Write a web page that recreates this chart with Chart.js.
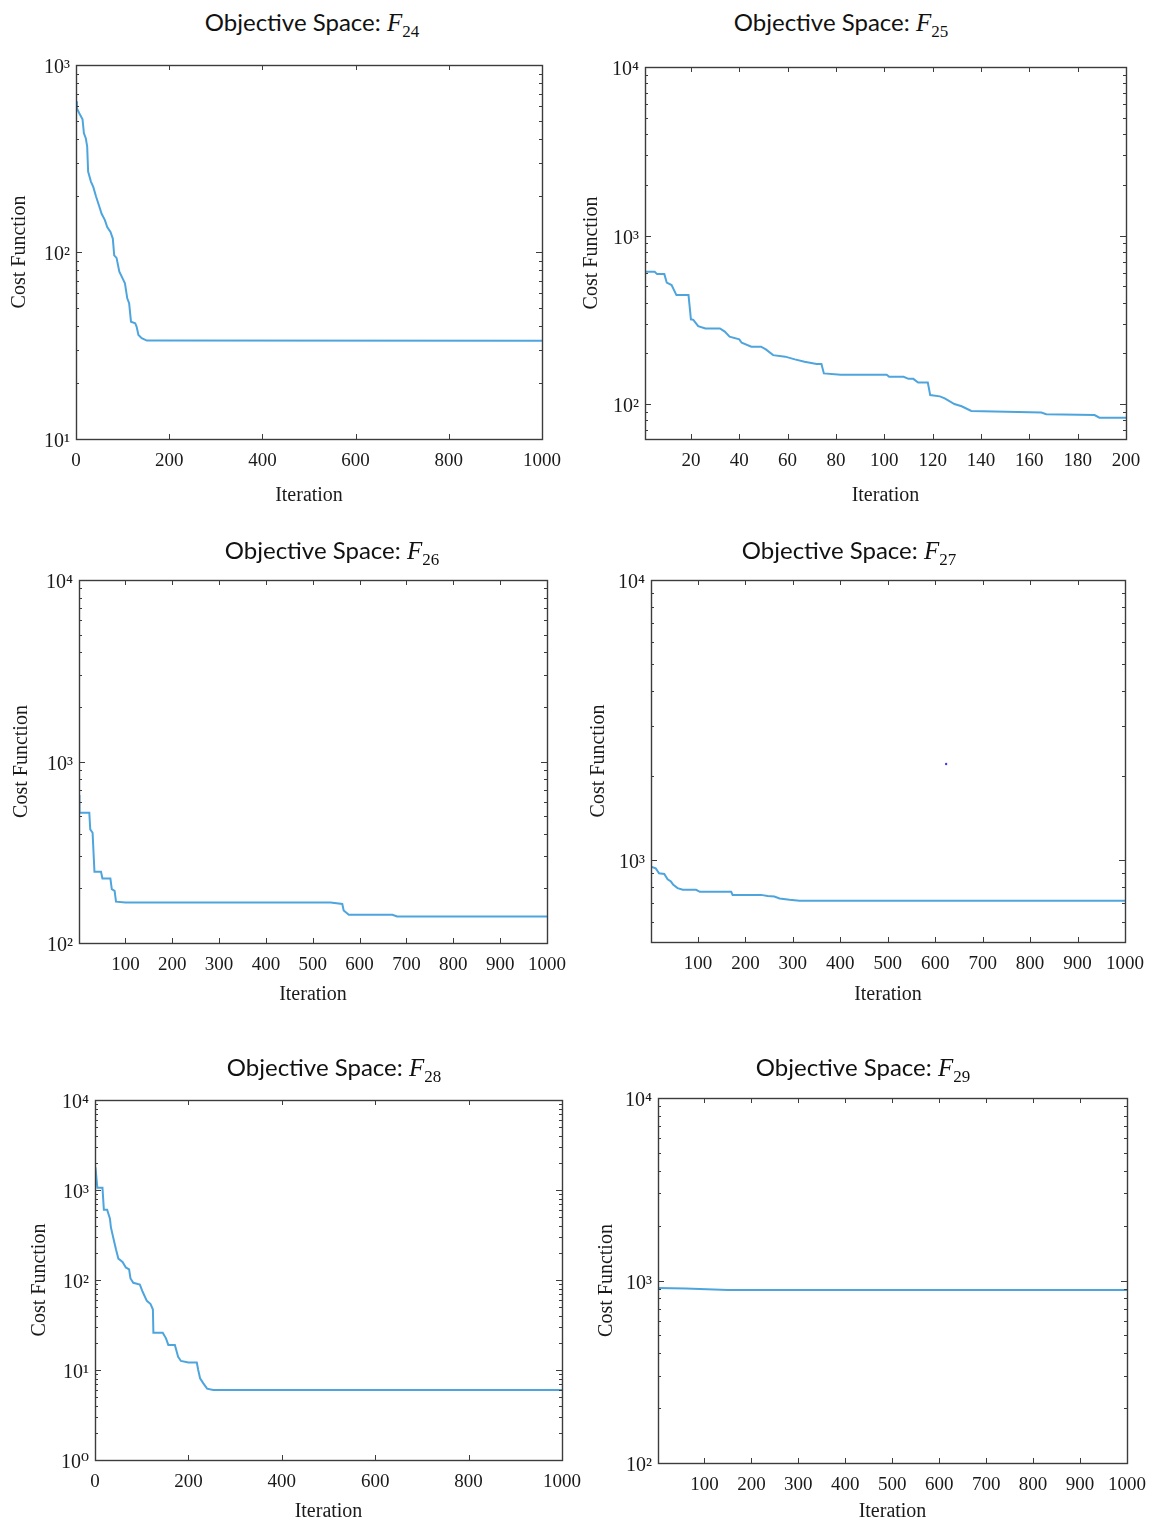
<!DOCTYPE html>
<html>
<head>
<meta charset="utf-8">
<script src="https://cdn.jsdelivr.net/npm/chart.js@4.4.1/dist/chart.umd.min.js"></script>
<style>
body{margin:0;background:#fff;width:1153px;height:1524px;position:relative;overflow:hidden}
.box{position:absolute}
.ttl{position:absolute;font-family:Lato,"Noto Sans",sans-serif;font-size:24px;line-height:28px;color:#111;white-space:nowrap;transform:translateX(-50%)}
.ttl i{font-family:"Liberation Serif",serif;font-size:25px}
.ttl sub{font-family:"Liberation Serif",serif;font-size:17px;vertical-align:-6px;line-height:0}
</style>
</head>
<body>

<script>
// F24
const iter24 = [1,2,7,14,17,21,24,26,32,37,43,50,55,62,67,74,79,82,87,93,100,105,110,114,118,127,130,134,141,152,1000];
const cost24 = [640,586,552,513,431,406,366,269,238,223,198,175,160,148,136,128,118,96,93,78.5,72.3,68,56.5,53.2,42.4,41.6,39.9,36,34.6,33.6,33.5];
// F25
const iter25 = [1,5,6,9,10,12,14,19,20,21,23,26,32,34,36,40,41,45,49,51,54,59,63,67,72,74,75,82,101,102,108,110,112,114,118,119,123,125,129,132,136,165,167,187,189,200];
const cost25 = [610,610,590,590,525,508,443,443,318,316,290,281,281,269,251,242,231,219,219,211,195,191,184,178,173,173,152,149,149,145,145,141,141,134,134,113,111,108,100,97,91,89,87,86,83,83];
// F26
const iter26 = [1,2,23,25,30,34,48,51,68,71,77,80,100,538,563,566,577,670,680,1000];
const cost26 = [653,522,522,423,405,247,247,227,227,198,194,169,167,167,164,151,143,143,140,140];
// F27
const iter27 = [1,11,18,29,36,43,48,57,68,96,104,170,173,233,247,261,272,293,314,1000];
const cost27 = [946,933,896,891,853,837,815,793,782,782,769,769,750,750,743,740,728,720,714,714];
const dotIter27 = [623];
const dotCost27 = [2200];
// F28
const iter28 = [1,5,16,19,26,32,34,39,45,50,59,66,73,76,82,96,102,111,119,124,125,145,152,157,171,178,184,200,218,221,225,232,240,253,1000];
const cost28 = [1790,1060,1060,604,604,480,387,296,218,173,159,138,131,104,93,89,74,58.7,54,47,26,26,22.5,19,19,14,12.6,12.1,12.1,10,8.1,7.1,6.2,6.0,6.0];
// F29
const iter29 = [1,60,150,1000];
const cost29 = [910,905,886,886];

// tick labels
const xTicks200 = [0,200,400,600,800,1000];
const xTicks100 = [100,200,300,400,500,600,700,800,900,1000];
const xTicks25 = [20,40,60,80,100,120,140,160,180,200];
const yTicks24 = [10,100,1000];
const yTicks25 = [100,1000,10000];
const yTicks26 = [100,1000,10000];
const yTicks27 = [1000,10000];
const yTicks28 = [1,10,100,1000,10000];
const yTicks29 = [100,1000,10000];

const lineColor = '#4ea5de';
const serif = '"Liberation Serif", "DejaVu Serif", serif';
const sup = {'0':'\u2070','1':'\u00b9','2':'\u00b2','3':'\u00b3','4':'\u2074'};

function logTicks(min, max, majors){
    var out = [];
    var e = Math.floor(Math.log10(min));
    while(Math.pow(10, e) <= max){
        for(let k = 1; k <= 9; k++){
            var v = k * Math.pow(10, e);
            if(v >= min * 0.999 && v <= max * 1.001){
                out.push({value: v, major: majors.indexOf(v) >= 0});
            }
        }
        e++;
    }
    return out;
}

const framePlugin = {
    id: 'frame',
    afterDraw(chart){
        const {ctx, chartArea: a} = chart;
        const x = chart.scales.x, y = chart.scales.y;
        ctx.save();
        ctx.strokeStyle = '#3c3c3c';
        ctx.lineWidth = 1;
        ctx.beginPath();
        x.ticks.forEach(t => {
            const px = Math.round(x.getPixelForValue(t.value)) + 0.5;
            ctx.moveTo(px, a.bottom); ctx.lineTo(px, a.bottom - 5);
            ctx.moveTo(px, a.top); ctx.lineTo(px, a.top + 5);
        });
        y.ticks.forEach(t => {
            const py = Math.round(y.getPixelForValue(t.value)) + 0.5;
            const len = t.major ? 6 : 3;
            ctx.moveTo(a.left, py); ctx.lineTo(a.left + len, py);
            ctx.moveTo(a.right, py); ctx.lineTo(a.right - len, py);
        });
        ctx.stroke();
        ctx.lineWidth = 1.4;
        ctx.strokeRect(Math.round(a.left) + 0.5, Math.round(a.top) + 0.5, Math.round(a.width), Math.round(a.height));
        ctx.restore();
    }
};

function makePanel(p){
    // p.box = [left, top, right, bottom] of the plot area
    const L = p.box[0], T = p.box[1], R = p.box[2], B = p.box[3];
    const padL = 80, padT = 20, padR = 38, padB = 75;
    const div = document.createElement('div');
    div.className = 'box';
    div.style.left = (L - padL) + 'px';
    div.style.top = (T - padT) + 'px';
    div.style.width = (R - L + padL + padR) + 'px';
    div.style.height = (B - T + padT + padB) + 'px';
    const cv = document.createElement('canvas');
    div.appendChild(cv);
    document.body.appendChild(div);

    const ttl = document.createElement('div');
    ttl.className = 'ttl';
    ttl.style.left = p.title[0] + 'px';
    ttl.style.top = (p.title[1] - 14) + 'px';
    ttl.innerHTML = 'Objective Space: <i>F</i><sub>' + p.name + '</sub>';
    document.body.appendChild(ttl);

    const datasets = [{
        data: p.iters.map((v, i) => ({x: v, y: p.costs[i]})),
        borderColor: lineColor,
        borderWidth: 2,
        pointRadius: 0,
        fill: false,
        tension: 0
    }];
    if(p.dots){
        datasets.push({
            data: p.dots[0].map((v, i) => ({x: v, y: p.dots[1][i]})),
            showLine: false,
            pointRadius: 1.2,
            pointBackgroundColor: '#3a3aff',
            pointBorderWidth: 0
        });
    }

    new Chart(cv, {
        type: 'line',
        data: {datasets: datasets},
        options: {
            responsive: true,
            maintainAspectRatio: false,
            animation: false,
            devicePixelRatio: 1,
            layout: {padding: {left: 0, top: padT, right: padR, bottom: 0}},
            plugins: {legend: {display: false}, tooltip: {enabled: false}},
            scales: {
                x: {
                    type: 'linear',
                    min: p.xRange[0],
                    max: p.xRange[1],
                    grid: {display: false, drawTicks: false},
                    border: {display: false},
                    afterBuildTicks: s => { s.ticks = p.xTicks.map(v => ({value: v})); },
                    afterFit: s => { s.height = padB; s.paddingLeft = 0; s.paddingRight = 0; },
                    ticks: {
                        autoSkip: false, maxRotation: 0, padding: 11,
                        color: '#1a1a1a', font: {family: serif, size: 19},
                        callback: v => String(v)
                    },
                    title: {
                        display: true, text: 'Iteration', color: '#1a1a1a',
                        font: {family: serif, size: 20}, padding: {top: 0, bottom: padB - p.xGap - 12}
                    }
                },
                y: {
                    type: 'logarithmic',
                    min: p.yRange[0],
                    max: p.yRange[1],
                    grid: {display: false, drawTicks: false},
                    border: {display: false},
                    afterBuildTicks: s => { s.ticks = logTicks(p.yRange[0], p.yRange[1], p.yTicks); },
                    afterFit: s => { s.width = padL; s.paddingTop = 0; s.paddingBottom = 0; },
                    ticks: {
                        autoSkip: false, padding: 6, labelOffset: 3,
                        color: '#1a1a1a', font: {family: serif, size: 20},
                        callback: v => {
                            if(p.yTicks.indexOf(v) < 0) return '';
                            return '10' + sup[String(Math.round(Math.log10(v)))];
                        }
                    },
                    title: {
                        display: true, text: 'Cost Function', color: '#1a1a1a',
                        font: {family: serif, size: 20}, padding: {top: padL - p.yGap - 12, bottom: 0}
                    }
                }
            }
        },
        plugins: [framePlugin]
    });
}

makePanel({name: '24', box: [76, 65, 542, 439], title: [312, 22], yGap: 56, xGap: 57,
    iters: iter24, costs: cost24, xRange: [0, 1000], yRange: [10, 1000], xTicks: xTicks200, yTicks: yTicks24});
makePanel({name: '25', box: [645, 67, 1126, 439], title: [841, 22], yGap: 53, xGap: 57,
    iters: iter25, costs: cost25, xRange: [1, 200], yRange: [62, 10000], xTicks: xTicks25, yTicks: yTicks25});
makePanel({name: '26', box: [79, 580, 547, 943], title: [332, 550], yGap: 57, xGap: 52,
    iters: iter26, costs: cost26, xRange: [1, 1000], yRange: [100, 10000], xTicks: xTicks100, yTicks: yTicks26});
makePanel({name: '27', box: [651, 580, 1125, 942], title: [849, 550], yGap: 52, xGap: 53,
    iters: iter27, costs: cost27, xRange: [1, 1000], yRange: [509, 10000], xTicks: xTicks100, yTicks: yTicks27,
    dots: [dotIter27, dotCost27]});
makePanel({name: '28', box: [95, 1100, 562, 1460], title: [334, 1067], yGap: 55, xGap: 52,
    iters: iter28, costs: cost28, xRange: [0, 1000], yRange: [1, 10000], xTicks: xTicks200, yTicks: yTicks28});
makePanel({name: '29', box: [658, 1098, 1127, 1463], title: [863, 1067], yGap: 51, xGap: 49,
    iters: iter29, costs: cost29, xRange: [1, 1000], yRange: [100, 10000], xTicks: xTicks100, yTicks: yTicks29});
</script>
</body>
</html>
